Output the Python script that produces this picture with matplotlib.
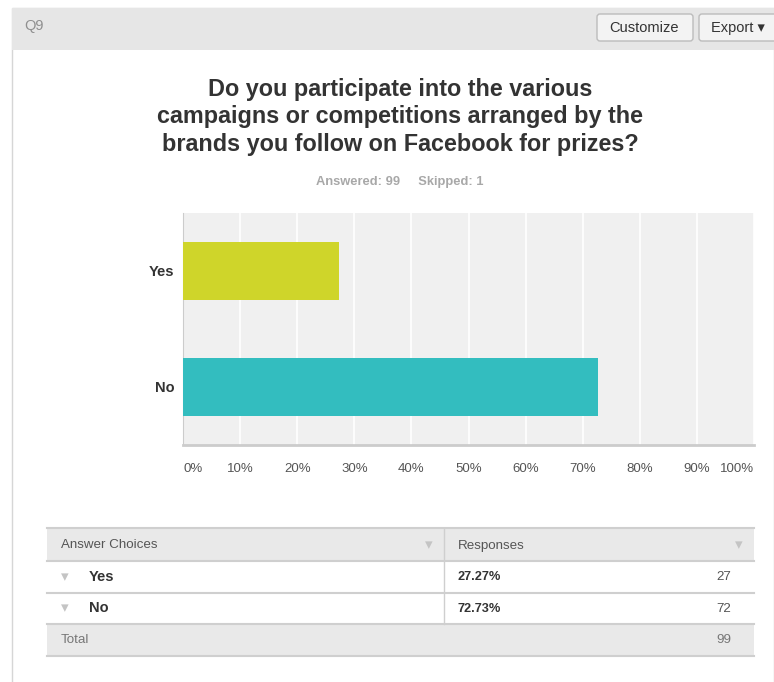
import numpy as np
import matplotlib
matplotlib.use("Agg")
import matplotlib.pyplot as plt
from matplotlib.patches import Rectangle, FancyBboxPatch

plt.rcParams["font.family"] = ["Liberation Sans", "DejaVu Sans"]

# Survey data
question = "Do you participate into the various\ncampaigns or competitions arranged by the\nbrands you follow on Facebook for prizes?"
choices = ["Yes", "No"]
percents = [27.27, 72.73]
counts = [27, 72]
answered = 99
skipped = 1
x_ticks = [0, 10, 20, 30, 40, 50, 60, 70, 80, 90, 100]

bar_colors = ["#cfd52a", "#33bdbf"]

W, H = 774, 682
fig = plt.figure(figsize=(W / 100, H / 100), dpi=100)

# page layer in pixel coordinates (y grows downward)
page = fig.add_axes([0, 0, 1, 1])
page.set_xlim(0, W)
page.set_ylim(H, 0)
page.axis("off")

# card outline + header strip
page.add_patch(Rectangle((12, 8), W - 12, H, facecolor="white", edgecolor="#d6d6d6", lw=1))
page.add_patch(Rectangle((12, 8), W - 12, 42, facecolor="#e6e6e6", edgecolor="none"))
page.text(24, 26, "Q9", fontsize=10.5, color="#8f8f8f", va="center", ha="left")

# header buttons
for x0, w, label in [(597, 96, "Customize"), (699, 80, "Export \u25be")]:
    page.add_patch(FancyBboxPatch((x0, 14), w, 27, boxstyle="round,pad=0,rounding_size=3",
                                  facecolor="#f3f3f3", edgecolor="#bcbcbc", lw=1))
    page.text(x0 + 12, 28, label, fontsize=10.5, color="#333333", va="center", ha="left")

page.text(400, 117, question, fontsize=16.8, fontweight="bold", color="#333333",
          ha="center", va="center", linespacing=1.27)
page.text(400, 182, f"Answered: {answered}     Skipped: {skipped}", fontsize=9.3,
          fontweight="bold", color="#a8a8a8", ha="center", va="center")

# bar chart axes: x 183..754 px, y 213..445 px
ax = fig.add_axes([183 / W, 1 - 445 / H, (754 - 183) / W, (445 - 213) / H])
ax.set_facecolor("#f0f0f0")
ypos = np.arange(len(choices))
ax.barh(ypos, percents, height=0.5, color=bar_colors, zorder=3)
ax.set_xlim(0, 100)
ax.set_ylim(len(choices) - 0.5, -0.5)
ax.set_xticks(x_ticks)
ax.set_xticklabels([f"{t}%" for t in x_ticks], fontsize=9.5, color="#555555")
ax.xaxis.grid(True, color="white", lw=1.2, zorder=1)
ax.tick_params(axis="x", length=0, pad=13)
ax.tick_params(axis="y", length=0, pad=6)
labs = ax.get_xticklabels()
labs[0].set_ha("left")
labs[-1].set_ha("right")
ax.set_yticks(ypos)
ax.set_yticklabels(choices, fontsize=10.5, fontweight="bold", color="#333333")
for side in ["top", "right"]:
    ax.spines[side].set_visible(False)
ax.spines["left"].set_color("#cccccc")
ax.spines["bottom"].set_color("#cccccc")
ax.spines["bottom"].set_linewidth(2)

# response table
tx0, tx1, tdiv = 47, 754, 444
rows_y = [528, 561, 593, 624, 656]
line_c = "#cfcfcf"
page.add_patch(Rectangle((tx0, rows_y[0]), tx1 - tx0, rows_y[1] - rows_y[0], facecolor="#e9e9e9", edgecolor="none"))
page.add_patch(Rectangle((tx0, rows_y[3]), tx1 - tx0, rows_y[4] - rows_y[3], facecolor="#e9e9e9", edgecolor="none"))
for y in rows_y:
    page.plot([tx0, tx1], [y, y], color=line_c, lw=1.5)
page.plot([tdiv, tdiv], [rows_y[0], rows_y[3]], color=line_c, lw=1)

hy = (rows_y[0] + rows_y[1]) / 2 + 1
page.text(61, hy, "Answer Choices", fontsize=9.6, color="#555555", va="center")
page.text(458, hy, "Responses", fontsize=9.6, color="#555555", va="center")
page.text(429, hy, "\u25be", fontsize=11, color="#c4c4c4", va="center", ha="center")
page.text(739, hy, "\u25be", fontsize=11, color="#c4c4c4", va="center", ha="center")

for i, (c, p, n) in enumerate(zip(choices, percents, counts)):
    cy = (rows_y[i + 1] + rows_y[i + 2]) / 2
    page.text(65, cy, "\u25be", fontsize=11, color="#c4c4c4", va="center", ha="center")
    page.text(89, cy, c, fontsize=10.5, fontweight="bold", color="#333333", va="center")
    page.text(458, cy, f"{p:.2f}%", fontsize=9.2, fontweight="bold", color="#333333", va="center")
    page.text(731, cy, str(n), fontsize=9.6, color="#555555", va="center", ha="right")

ty = (rows_y[3] + rows_y[4]) / 2
page.text(61, ty, "Total", fontsize=9.6, color="#777777", va="center")
page.text(731, ty, str(sum(counts)), fontsize=9.6, color="#777777", va="center", ha="right")

fig.savefig("out.png", dpi=100)
